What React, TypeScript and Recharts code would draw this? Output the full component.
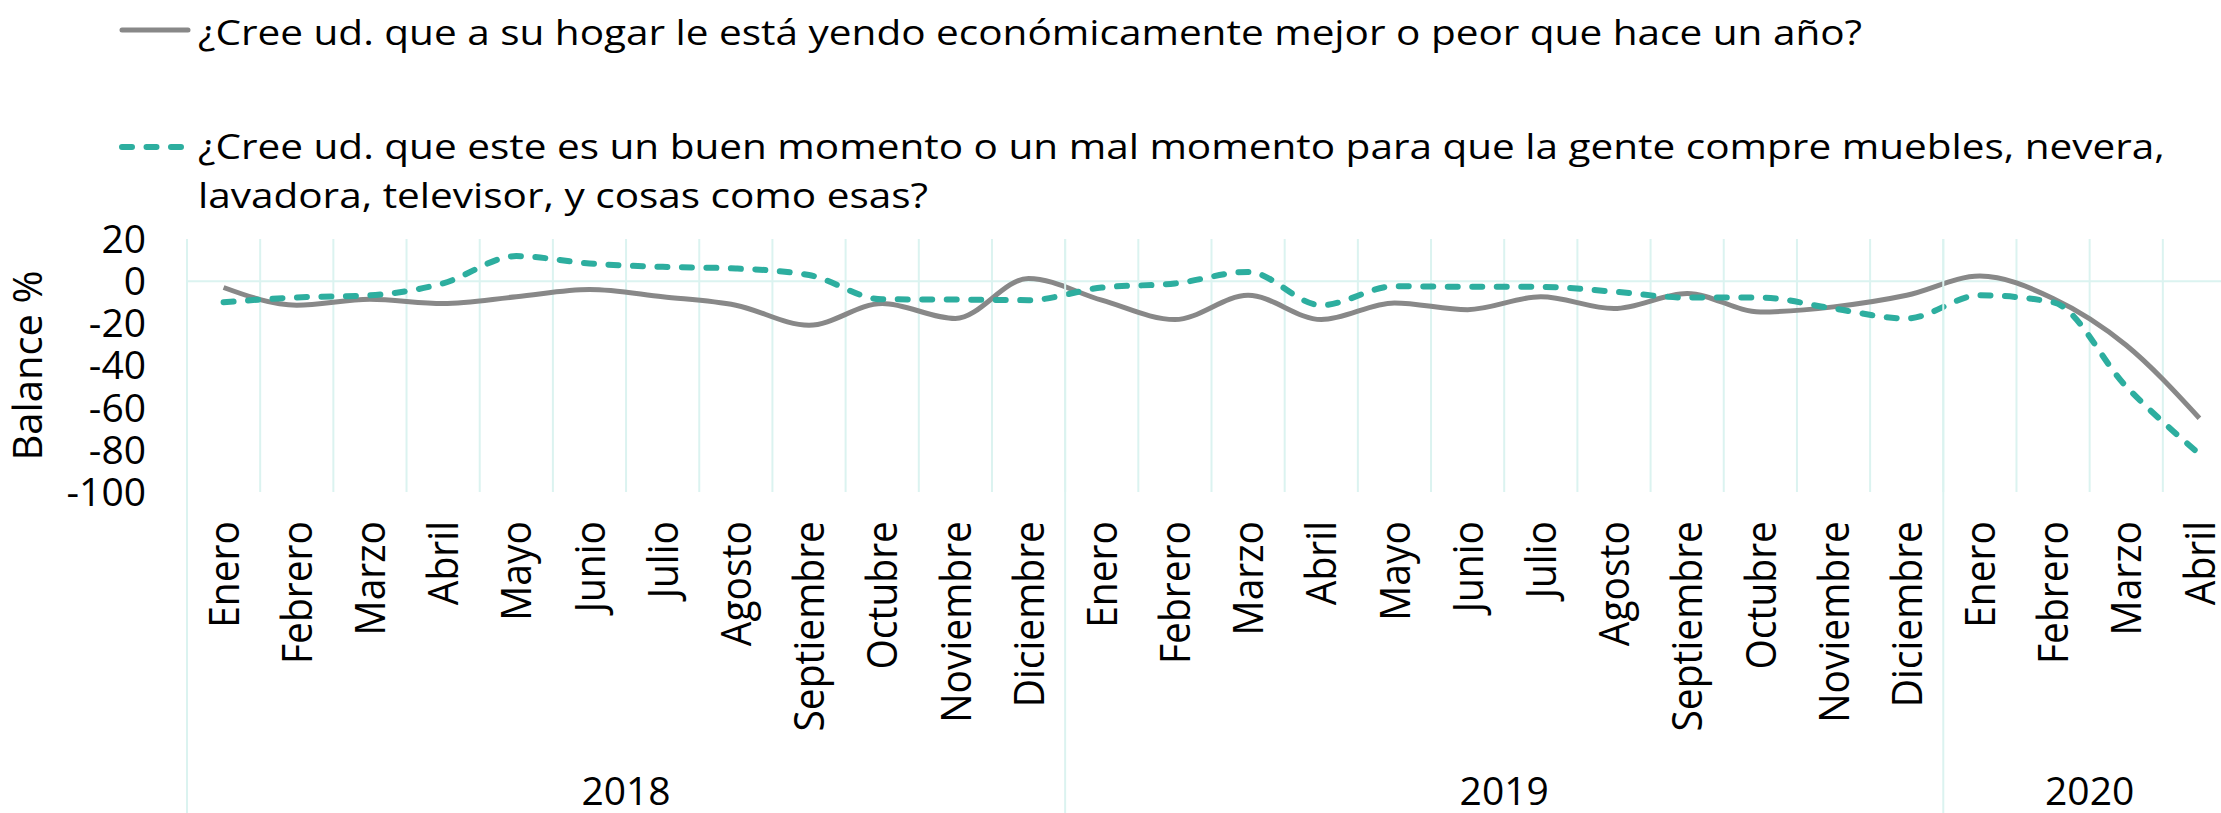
import { LineChart, Line, XAxis, YAxis, CartesianGrid, ReferenceLine } from 'recharts'

// Balance de respuestas, enero 2018 - abril 2020
const months = [
  'Enero', 'Febrero', 'Marzo', 'Abril', 'Mayo', 'Junio', 'Julio', 'Agosto', 'Septiembre', 'Octubre', 'Noviembre', 'Diciembre',
  'Enero', 'Febrero', 'Marzo', 'Abril', 'Mayo', 'Junio', 'Julio', 'Agosto', 'Septiembre', 'Octubre', 'Noviembre', 'Diciembre',
  'Enero', 'Febrero', 'Marzo', 'Abril',
]
const years = [
  '2018', '2018', '2018', '2018', '2018', '2018', '2018', '2018', '2018', '2018', '2018', '2018',
  '2019', '2019', '2019', '2019', '2019', '2019', '2019', '2019', '2019', '2019', '2019', '2019',
  '2020', '2020', '2020', '2020',
]
const hogar = [
  -3, -11.4, -8.6, -10.6, -7.4, -4, -7.4, -11.4, -20.9, -10.6, -17.7, 1.3,
  -9, -18.2, -6.7, -18.2, -10.3, -13.5, -7.4, -13, -5.9, -14.6, -12.2, -6.7,
  2.4, -8.2, -30.4, -65,
]
const compra = [
  -10, -7.7, -6.7, -1, 11.9, 8.4, 6.8, 6, 2.9, -8.6, -8.7, -9,
  -3, -1.1, 4.4, -11.4, -2.4, -2.7, -2.7, -5, -7.8, -7.8, -13, -17.7,
  -6.7, -10, -50, -82,
]
const yTicks = [-100, -80, -60, -40, -20, 0, 20]
const yLabel = 'Balance %'
const hogarName = '¿Cree ud. que a su hogar le está yendo económicamente mejor o peor que hace un año?'
const compraName = '¿Cree ud. que este es un buen momento o un mal momento para que la gente compre muebles, nevera, lavadora, televisor, y cosas como esas?'

const W = 2240
const H = 813
const PLOT_TOP = 239
const Y_AXIS_W = 187
const RIGHT = 4
const HALF_BAND = (W - Y_AXIS_W - RIGHT) / months.length / 2
const FONT = "'Open Sans', sans-serif"
const GRID = '#dbf3f0'
const GRAY = '#888888'
const TEAL = '#2dae9f'
const LEGEND_STRETCH = 1.157

const data = months.map((m, i) => ({ idx: i, month: m, year: years[i], hogar: hogar[i], compra: compra[i] }))

const yearGroups = Array.from(new Set(years)).map((y) => {
  const start = years.indexOf(y)
  const end = years.lastIndexOf(y) + 1
  return { year: y, start, end, center: (start + end) / 2 }
})
const yearTicks = Array.from(
  new Set(yearGroups.flatMap((g) => [g.start, g.center, g.end]))
).sort((a, b) => a - b)

function MonthTick(props: any) {
  const { x, y, payload } = props
  return (
    <text
      transform={`translate(${x},${y}) scale(1.08,1) rotate(-90)`}
      textAnchor="end"
      dy="0.36em"
      fontSize={39}
      fontFamily={FONT}
      fill="#000"
    >
      {payload.value}
    </text>
  )
}

function YearTick(props: any) {
  const { x, y, payload } = props
  const g = yearGroups.find((yg) => yg.center === payload.value)
  if (g) {
    return (
      <text x={x} y={y + 43} textAnchor="middle" fontSize={39} fontFamily={FONT} fill="#000">
        {g.year}
      </text>
    )
  }
  return <line x1={x} x2={x} y1={PLOT_TOP} y2={H} stroke={GRID} strokeWidth={2} />
}

function AxisTitle(props: any) {
  const { viewBox } = props
  const cy = viewBox.y + viewBox.height / 2
  return (
    <text
      transform={`translate(${viewBox.x + 28},${cy}) rotate(-90)`}
      textAnchor="middle"
      dy="0.36em"
      fontSize={40}
      fontFamily={FONT}
      fill="#000"
    >
      {yLabel}
    </text>
  )
}

function LegendBlock() {
  const text = {
    position: 'absolute' as const,
    left: 198,
    width: (2213 - 198) / LEGEND_STRETCH,
    fontSize: 35,
    lineHeight: '49px',
    fontFamily: FONT,
    color: '#000',
    transform: `scaleX(${LEGEND_STRETCH})`,
    transformOrigin: 'left top',
  }
  return (
    <>
      <svg style={{ position: 'absolute', left: 0, top: 0 }} width={230} height={200}>
        <line x1={122} x2={188} y1={30} y2={30} stroke={GRAY} strokeWidth={5} strokeLinecap="round" />
        <line x1={122} x2={185} y1={147} y2={147} stroke={TEAL} strokeWidth={6} strokeDasharray="10 14.5" strokeLinecap="round" />
      </svg>
      <div style={{ ...text, top: 7 }}>{hogarName}</div>
      <div style={{ ...text, top: 121 }}>{compraName}</div>
    </>
  )
}

export default function App() {
  return (
    <div style={{ position: 'absolute', left: 0, top: 0, width: 2221, height: H, overflow: 'hidden', background: '#fff' }}>
      <LineChart width={W} height={H} data={data} margin={{ top: PLOT_TOP, right: RIGHT, bottom: 0, left: 0 }}>
        <CartesianGrid
          xAxisId="month"
          horizontal={false}
          stroke={GRID}
          strokeWidth={2}
          verticalCoordinatesGenerator={({ offset }: any) =>
            months.map((_, i) => offset.left + (i * offset.width) / months.length)
          }
        />
        <XAxis
          xAxisId="month"
          dataKey="month"
          padding={{ left: HALF_BAND, right: HALF_BAND }}
          interval={0}
          height={270}
          axisLine={false}
          tickLine={false}
          tickSize={0}
          tickMargin={29}
          tick={<MonthTick />}
        />
        <XAxis
          xAxisId="year"
          type="number"
          dataKey="idx"
          domain={[0, months.length]}
          ticks={yearTicks}
          interval={0}
          allowDataOverflow
          height={51}
          axisLine={false}
          tickLine={false}
          tickSize={0}
          tickMargin={0}
          tick={<YearTick />}
        />
        <YAxis
          domain={[-100, 20]}
          ticks={yTicks}
          interval={0}
          allowDataOverflow
          width={Y_AXIS_W}
          axisLine={false}
          tickLine={false}
          tickSize={0}
          tickMargin={41}
          tick={{ fontSize: 39, fontFamily: FONT, fill: '#000' }}
          label={<AxisTitle />}
        />
        <ReferenceLine xAxisId="month" y={0} stroke={GRID} strokeWidth={2} />
        <Line
          xAxisId="month"
          type="monotone"
          dataKey="hogar"
          name={hogarName}
          stroke={GRAY}
          strokeWidth={5}
          dot={false}
          activeDot={false}
          isAnimationActive={false}
        />
        <Line
          xAxisId="month"
          type="monotone"
          dataKey="compra"
          name={compraName}
          stroke={TEAL}
          strokeWidth={6}
          strokeDasharray="10 14.5"
          strokeLinecap="round"
          dot={false}
          activeDot={false}
          isAnimationActive={false}
        />
      </LineChart>
      <LegendBlock />
    </div>
  )
}
